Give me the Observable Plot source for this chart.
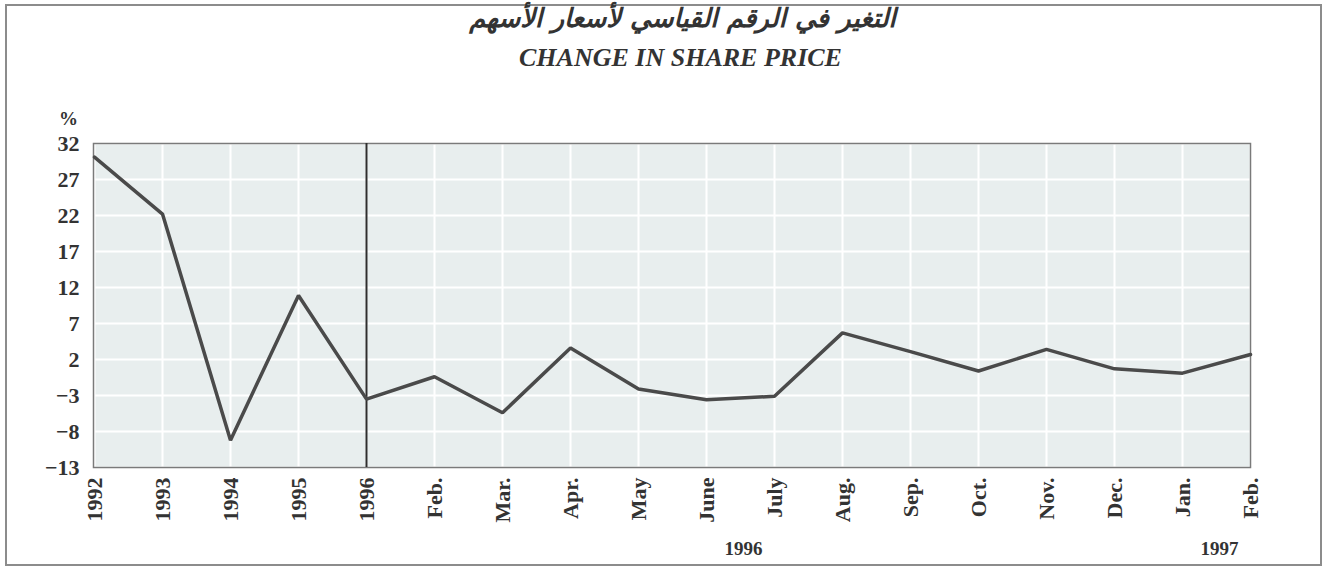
<!DOCTYPE html>
<html>
<head>
<meta charset="utf-8">
<script src="https://cdn.jsdelivr.net/npm/d3@7"></script>
<script src="https://cdn.jsdelivr.net/npm/@observablehq/plot@0.6"></script>
<style>
  body { margin: 0; background: #fff; }
  #wrap { position: relative; width: 1325px; height: 568px; overflow: hidden; background: #fff; }
  #border { position: absolute; left: 5px; top: 4px; width: 1313px; height: 558px; border: 2px solid #8c8c8c; box-sizing: content-box; }
  #ar { position: absolute; left: 20px; width: 1325px; top: 3px; text-align: center; direction: rtl;
        font: italic bold 26px "DejaVu Sans"; color: #333; }
  #en { position: absolute; left: 18px; width: 1325px; top: 43px; text-align: center;
        font: italic bold 26px "Liberation Serif"; color: #333; }
  #chart { position: absolute; left: 0; top: 90px; }
</style>
</head>
<body>
<div id="wrap">
  <div id="border"></div>
  <div id="ar">التغير في الرقم القياسي لأسعار الأسهم</div>
  <div id="en">CHANGE IN SHARE PRICE</div>
  <div id="chart"></div>
</div>
<script>
// ---- data ----
const periods = ["1992","1993","1994","1995","1996","1996-02","1996-03","1996-04","1996-05","1996-06","1996-07","1996-08","1996-09","1996-10","1996-11","1996-12","1997-01","1997-02"];
const tickLabels = ["1992","1993","1994","1995","1996","Feb.","Mar.","Apr.","May","June","July","Aug.","Sep.","Oct.","Nov.","Dec.","Jan.","Feb."];
const values = [30.1, 22.2, -9.2, 10.9, -3.5, -0.4, -5.4, 3.6, -2.1, -3.6, -3.1, 5.7, 3.1, 0.4, 3.4, 0.7, 0.1, 2.7];
const yTicks = [32, 27, 22, 17, 12, 7, 2, -3, -8, -13];
const dividerAt = ["1996"];
const yearGroups = [{label: "1996", from: "1996-06"}, {label: "1997", from: "1997-01"}];
const unitLabel = ["%"];

const rows = periods.map((p, i) => ({period: p, value: values[i]}));
const fmt = d => tickLabels[periods.indexOf(d)];
const ink = "#333";
const serif = "Liberation Serif";

const chart = Plot.plot({
  width: 1325,
  height: 478,
  marginTop: 53,
  marginBottom: 101,
  marginLeft: 93,
  marginRight: 75,
  style: {background: "transparent", fontFamily: serif, fontWeight: "bold", color: ink, overflow: "visible"},
  x: {type: "point", domain: periods, padding: 0},
  y: {domain: [-13, 32]},
  marks: [
    Plot.frame({fill: "#e8eeee", stroke: null}),
    Plot.gridX({stroke: "#fff", strokeOpacity: 1, strokeWidth: 2}),
    Plot.gridY(yTicks, {stroke: "#fff", strokeOpacity: 1, strokeWidth: 2}),
    Plot.frame({stroke: "#7a7a7a", strokeWidth: 1.5}),
    Plot.ruleX(dividerAt, {stroke: "#2e2e2e", strokeWidth: 2}),
    Plot.line(rows, {x: "period", y: "value", stroke: "#4a4a4a", strokeWidth: 3.5, strokeLinejoin: "miter"}),
    Plot.axisY(yTicks, {tickSize: 0, tickPadding: 14, fontSize: 22, fontWeight: "bold", fontFamily: serif, color: ink, label: null}),
    Plot.axisX({tickRotate: -90, tickSize: 0, tickPadding: 10, fontSize: 22, fontWeight: "bold", fontFamily: serif, color: ink, tickFormat: fmt, label: null}),
    Plot.text(unitLabel, {frameAnchor: "top-left", lineAnchor: "middle", textAnchor: "middle", dx: -25, dy: -25, fontSize: 19, fontFamily: serif, fill: ink}),
    Plot.text(yearGroups, {x: "from", text: "label", frameAnchor: "bottom", lineAnchor: "middle", dx: 37, dy: 81, fontSize: 19, fontWeight: "bold", fontFamily: serif, fill: ink})
  ]
});
document.getElementById("chart").appendChild(chart);
</script>
</body>
</html>
